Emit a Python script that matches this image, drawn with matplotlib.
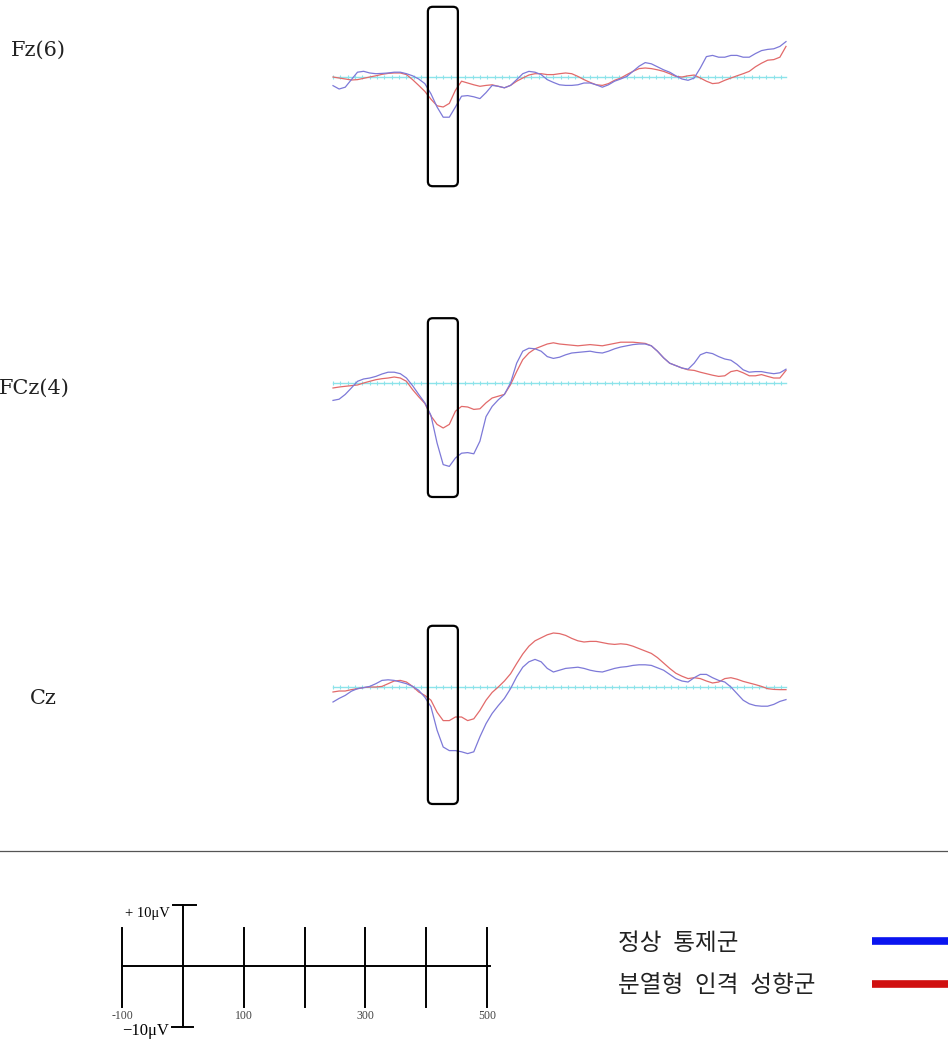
import numpy as np
import matplotlib
matplotlib.use("Agg")
import matplotlib.pyplot as plt
from matplotlib.patches import FancyBboxPatch

# ERP grand averages, time in ms (10 ms steps), amplitude in microvolts
times = np.arange(-100, 641, 10)

fz_control = [-1.44, -2.0, -1.7, -0.44, 0.8, 0.95, 0.67, 0.55, 0.6, 0.67,
              0.8, 0.8, 0.55, 0.2, -0.33, -1.1, -2.8, -5.0, -6.7, -6.7,
              -5.0, -3.2, -3.1, -3.3, -3.6, -2.6, -1.4, -1.55, -1.8, -1.4,
              -0.44, 0.55, 0.94, 0.8, 0.4, -0.44, -0.9, -1.3, -1.4, -1.4,
              -1.3, -1.0, -1.0, -1.3, -1.7, -1.3, -0.7, -0.33, 0.1, 0.94,
              1.8, 2.4, 2.2, 1.7, 1.2, 0.8, 0.2, -0.33, -0.55, -0.17,
              1.5, 3.4, 3.6, 3.3, 3.3, 3.6, 3.6, 3.3, 3.3, 3.9,
              4.4, 4.6, 4.7, 5.1, 5.9]
fz_schizo = [0.0, -0.17, -0.33, -0.5, -0.44, -0.22, 0.0, 0.2, 0.44, 0.6,
             0.67, 0.67, 0.4, -0.44, -1.4, -2.4, -3.7, -4.8, -5.0, -4.4,
             -2.2, -0.7, -1.0, -1.3, -1.55, -1.4, -1.3, -1.55, -1.8, -1.4,
             -0.7, -0.17, 0.33, 0.55, 0.55, 0.4, 0.4, 0.55, 0.67, 0.55,
             0.1, -0.44, -0.9, -1.3, -1.4, -1.1, -0.55, -0.17, 0.4, 0.94,
             1.4, 1.5, 1.4, 1.2, 0.94, 0.55, 0.1, 0.0, 0.2, 0.33,
             -0.17, -0.7, -1.1, -1.0, -0.55, -0.17, 0.2, 0.55, 0.94, 1.7,
             2.3, 2.8, 2.9, 3.3, 5.1]

fcz_control = [-2.9, -2.7, -1.9, -0.83, 0.28, 0.67, 0.83, 1.1, 1.5, 1.8,
               1.8, 1.55, 0.83, -0.44, -1.9, -3.3, -5.4, -10.0, -13.6, -13.9,
               -12.5, -11.7, -11.6, -11.8, -9.7, -5.6, -3.9, -2.8, -1.9, 0.0,
               3.3, 5.3, 5.8, 5.7, 5.3, 4.4, 4.1, 4.3, 4.7, 5.0,
               5.1, 5.2, 5.3, 5.1, 5.0, 5.3, 5.7, 6.0, 6.2, 6.4,
               6.5, 6.5, 6.2, 5.3, 4.2, 3.3, 2.9, 2.5, 2.3, 3.3,
               4.7, 5.1, 4.9, 4.4, 4.0, 3.8, 3.1, 2.2, 1.8, 1.9,
               1.9, 1.7, 1.55, 1.7, 2.3]
fcz_schizo = [-0.83, -0.67, -0.55, -0.44, -0.33, 0.0, 0.28, 0.55, 0.72, 0.83,
              1.0, 0.83, 0.28, -1.1, -2.3, -3.4, -5.5, -6.9, -7.5, -6.9,
              -4.7, -3.9, -4.0, -4.4, -4.3, -3.3, -2.5, -2.2, -1.9, -0.28,
              1.9, 3.9, 5.0, 5.7, 6.1, 6.5, 6.7, 6.5, 6.4, 6.3,
              6.2, 6.3, 6.4, 6.3, 6.2, 6.4, 6.6, 6.8, 6.8, 6.8,
              6.7, 6.6, 6.2, 5.3, 4.2, 3.3, 2.9, 2.5, 2.2, 2.1,
              1.8, 1.55, 1.3, 1.1, 1.2, 1.9, 2.1, 1.7, 1.2, 1.2,
              1.4, 1.1, 0.83, 0.83, 2.1]

cz_control = [-2.5, -1.9, -1.4, -0.7, -0.28, -0.1, 0.1, 0.55, 1.1, 1.2,
              1.1, 0.83, 0.55, 0.1, -0.55, -1.7, -3.3, -7.2, -10.0, -10.6,
              -10.6, -10.8, -11.1, -10.8, -8.3, -6.1, -4.4, -3.1, -1.9, -0.28,
              1.7, 3.3, 4.2, 4.6, 4.2, 3.1, 2.5, 2.8, 3.1, 3.2,
              3.3, 3.1, 2.8, 2.6, 2.5, 2.8, 3.1, 3.3, 3.4, 3.6,
              3.7, 3.7, 3.6, 3.2, 2.8, 2.1, 1.4, 1.0, 0.83, 1.55,
              2.1, 2.1, 1.55, 1.1, 0.83, 0.0, -1.1, -2.2, -2.8, -3.1,
              -3.2, -3.2, -2.9, -2.4, -2.1]
cz_schizo = [-0.83, -0.67, -0.67, -0.44, -0.28, -0.1, 0.0, 0.0, 0.1, 0.55,
             1.0, 1.1, 0.83, 0.1, -0.83, -1.4, -2.2, -4.2, -5.6, -5.6,
             -5.0, -5.0, -5.6, -5.3, -3.9, -2.2, -0.9, 0.0, 1.0, 2.2,
             3.9, 5.5, 6.8, 7.7, 8.2, 8.7, 9.0, 8.9, 8.6, 8.1,
             7.7, 7.5, 7.6, 7.6, 7.4, 7.2, 7.1, 7.2, 7.1, 6.8,
             6.4, 6.0, 5.6, 4.9, 4.0, 3.1, 2.3, 1.8, 1.4, 1.55,
             1.4, 1.0, 0.67, 0.83, 1.4, 1.55, 1.3, 0.94, 0.67, 0.4,
             0.1, -0.28, -0.4, -0.44, -0.44]

channels = ["Fz(6)", "FCz(4)", "Cz"]
control = [fz_control, fcz_control, cz_control]
schizo = [fz_schizo, fcz_schizo, cz_schizo]
baseline_px = [77, 383, 687]          # pixel row of each zero line
label_xy = [(11, 50), (-1, 388), (30, 698)]
window = (55, 104)                    # N1 window marked by the boxes
box_range = [(11.7, -18.2), (10.8, -19.0), (10.2, -19.5)]

scale_ticks = [-100, 0, 100, 200, 300, 400, 500]
scale_labels = {-100: "-100", 100: "100", 300: "300", 500: "500"}
legend_names = ["정상 통제군", "분열형 인격 성향군"]
legend_colors = ["#0a14f0", "#d01010"]

W, H = 948, 1043
fig = plt.figure(figsize=(W / 100, H / 100), dpi=100)
fig.patch.set_facecolor("white")

def fig_axes(x0, y0, x1, y1):
    # pixel box (top-left origin) -> figure axes
    return fig.add_axes([x0 / W, 1 - y1 / H, (x1 - x0) / W, (y1 - y0) / H])

px_per_ms = (786 - 333) / 740.0
px_per_uv = 6.0

for i, ch in enumerate(channels):
    top = baseline_px[i] - 14 * px_per_uv
    bot = baseline_px[i] + 20 * px_per_uv
    ax = fig_axes(320, top, 800, bot)
    ax.set_xlim(-100 - 13 / px_per_ms, 640 + 14 / px_per_ms)
    ax.set_ylim(-20, 14)
    ax.axis("off")

    # cyan baseline with little ticks
    ax.plot([-100, 640], [0, 0], color="#8ce3ea", lw=1.0, zorder=1)
    tk = np.arange(-100, 641, 12)
    ax.plot(tk, np.zeros_like(tk), ls="none", marker="|", ms=3, mew=0.8,
            color="#8ce3ea", zorder=1)

    ax.plot(times, schizo[i], color="#e26a6a", lw=0.9, zorder=3)
    ax.plot(times, control[i], color="#7d79d8", lw=0.9, zorder=4)

    y_top, y_bot = box_range[i]
    box = FancyBboxPatch((window[0], y_bot), window[1] - window[0], y_top - y_bot,
                         boxstyle="round,pad=0,rounding_size=8",
                         mutation_aspect=0.1, fill=False, ec="black", lw=1.6, zorder=5)
    ax.add_patch(box)

    fig.text(label_xy[i][0] / W, 1 - label_xy[i][1] / H, ch, fontsize=15,
             family="DejaVu Serif", va="center", ha="left", color="#222222")

# separator
fig.add_artist(plt.Line2D([0, 1], [1 - 851 / H, 1 - 851 / H], color="#555555", lw=0.9))

# scale bar
sx = (487 - 122) / 600.0
sy = 6.1
sax = fig_axes(100, 900, 510, 1040)
sax.set_xlim(-100 - 22 / sx, 500 + 23 / sx)
sax.set_ylim(-(1040 - 966) / sy, (966 - 900) / sy)
sax.axis("off")
sax.plot([-100, 505], [0, 0], color="black", lw=1.4)
for t in scale_ticks:
    if t == 0:
        sax.plot([0, 0], [10, -10], color="black", lw=1.4)
        sax.plot([-16, 21], [10, 10], color="black", lw=1.4)
        sax.plot([-18, 17], [-10, -10], color="black", lw=1.4)
    else:
        sax.plot([t, t], [6.3, -6.7], color="black", lw=1.4)
    if t in scale_labels:
        sax.text(t, -8.2, scale_labels[t], ha="center", va="center", fontsize=8.5,
                 family="Liberation Serif", color="#444444")
sax.text(-21, 8.6, "+ 10μV", ha="right", va="center", fontsize=10.5, family="Liberation Serif")
sax.text(-22, -10.6, "−10μV", ha="right", va="center", fontsize=12, family="Liberation Serif")

# legend
for k, name in enumerate(legend_names):
    yc = 943 + 43 * k
    fig.text(618 / W, 1 - yc / H, name.replace(" ", "\u2002"), fontsize=17,
             family=["Noto Sans CJK KR", "DejaVu Sans"], va="center", ha="left",
             color="#222222")
    fig.add_artist(plt.Line2D([872 / W, 1.0], [1 - (yc - 2) / H] * 2,
                              color=legend_colors[k], lw=5.5, solid_capstyle="butt"))

fig.savefig("out.png", dpi=100, facecolor="white")
